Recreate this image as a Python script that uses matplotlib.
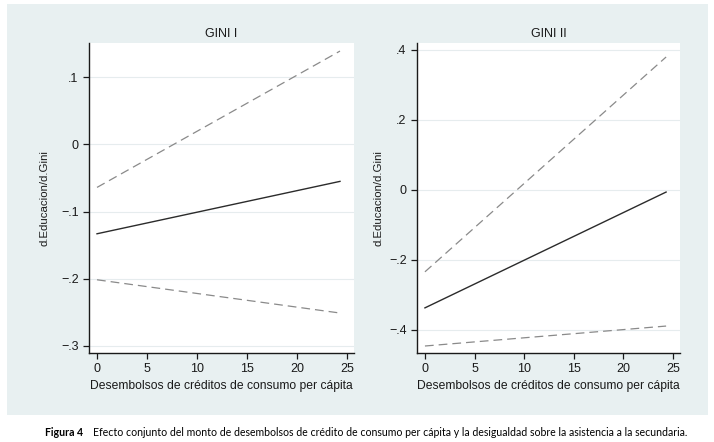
import matplotlib.pyplot as plt
from matplotlib.patches import Rectangle

# x range of the marginal-effect lines
x_vals = [0, 24.3]

# GINI I
g1_effect = [-0.133, -0.055]
g1_upper = [-0.064, 0.139]
g1_lower = [-0.2015, -0.251]
g1_ticks = [0.1, 0, -0.1, -0.2, -0.3]
g1_labels = ['.1', '0', '\u2212.1', '\u2212.2', '\u2212.3']

# GINI II
g2_effect = [-0.337, -0.006]
g2_upper = [-0.234, 0.38]
g2_lower = [-0.446, -0.389]
g2_ticks = [0.4, 0.2, 0, -0.2, -0.4]
g2_labels = ['.4', '.2', '0', '\u2212.2', '\u2212.4']

x_ticks = [0, 5, 10, 15, 20, 25]

plt.rcParams['font.family'] = ['Liberation Sans', 'DejaVu Sans']

fig = plt.figure(figsize=(7.14, 4.42), dpi=100)
fig.patches.append(Rectangle((7 / 714, 1 - 415 / 442), 701 / 714, 411 / 442,
                             transform=fig.transFigure, facecolor='#e8f0f1',
                             edgecolor='none', zorder=-1))


def panel(rect, title, eff, up, lo, yticks, ylabels, ylim, ypad):
    ax = fig.add_axes(rect)
    ax.set_facecolor('white')
    ax.plot(x_vals, up, color='#8a8a8a', lw=0.9, dashes=(7, 4))
    ax.plot(x_vals, eff, color='#2b2b2b', lw=1.0)
    ax.plot(x_vals, lo, color='#8a8a8a', lw=0.9, dashes=(7, 4))
    ax.set_xlim(-0.8, 25.7)
    ax.set_ylim(*ylim)
    ax.set_xticks(x_ticks)
    ax.set_yticks(yticks)
    ax.set_yticklabels(ylabels)
    ax.grid(axis='y', color='#e6ecee', lw=0.8)
    ax.set_axisbelow(True)
    for s in ['top', 'right']:
        ax.spines[s].set_visible(False)
    for s in ['left', 'bottom']:
        ax.spines[s].set_color('#1a1a1a')
        ax.spines[s].set_linewidth(1.0)
    ax.tick_params(axis='both', length=4, width=0.9, color='#1a1a1a',
                   labelsize=9, labelcolor='#1a1a1a')
    ax.set_title(title, fontsize=9, color='#1a1a1a', pad=4)
    ax.set_xlabel('Desembolsos de créditos de consumo per cápita',
                  fontsize=8.7, color='#1a1a1a', labelpad=3)
    ax.set_ylabel('d.Educacion/d.Gini', fontsize=8.2, color='#1a1a1a',
                  labelpad=ypad)
    return ax


panel([89 / 714, 1 - 353 / 442, 265 / 714, 310 / 442], 'GINI I',
      g1_effect, g1_upper, g1_lower, g1_ticks, g1_labels, (-0.3105, 0.151), 8)
panel([417 / 714, 1 - 353 / 442, 263 / 714, 310 / 442], 'GINI II',
      g2_effect, g2_upper, g2_lower, g2_ticks, g2_labels, (-0.466, 0.42), 4)

fig.text(45 / 714, 1 - 432 / 442, 'Figura 4', fontsize=7.6, fontweight='bold',
         family=['Lato', 'DejaVu Sans'], va='center')
fig.text(93 / 714, 1 - 432 / 442,
         'Efecto conjunto del monto de desembolsos de crédito de consumo per cápita '
         'y la desigualdad sobre la asistencia a la secundaria.',
         fontsize=7.6, family=['Lato', 'DejaVu Sans'], va='center')

fig.savefig('out.png', dpi=100)
